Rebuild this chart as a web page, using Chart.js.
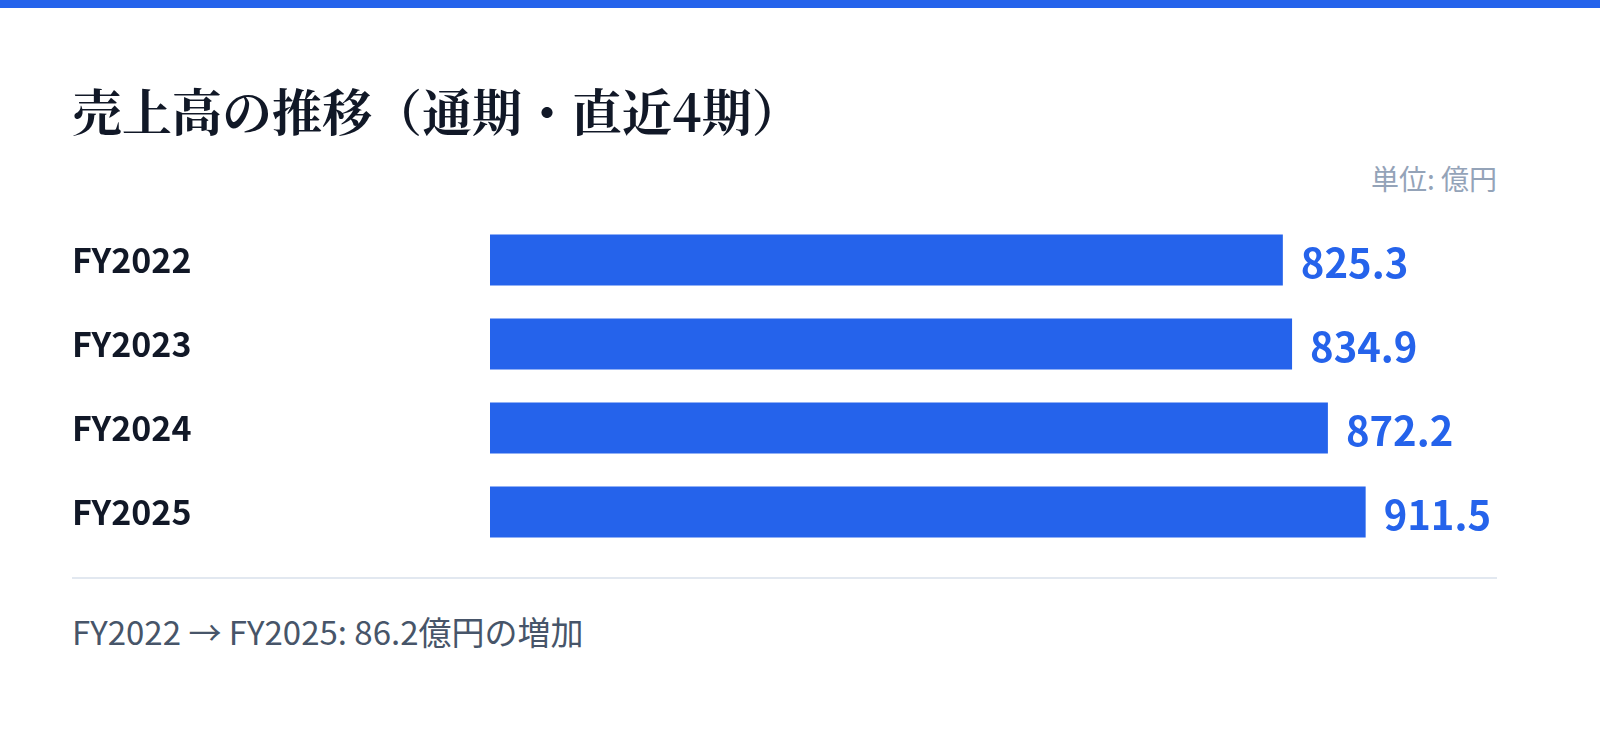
<!DOCTYPE html>
<html lang="ja">
<head>
<meta charset="utf-8">
<script src="https://cdn.jsdelivr.net/npm/chart.js@4.4.1/dist/chart.umd.min.js"></script>
<style>
  html, body { margin: 0; padding: 0; background: #fff; }
  body { width: 1600px; height: 733px; position: relative; overflow: hidden;
         font-family: "Noto Sans CJK JP", "Noto Sans", sans-serif; }
  .topbar { position: absolute; left: 0; top: 0; width: 1600px; height: 8px; background: #2563eb; }
  h1 { position: absolute; left: 72px; top: 76px; margin: 0;
       font-family: "Noto Serif CJK JP", "Liberation Serif", serif; font-weight: 700;
       font-size: 50px; line-height: 66px; color: #111827; white-space: nowrap; }
  .unit { position: absolute; right: 103px; top: 158px; font-size: 28px; line-height: 40px; color: #94a3b8; }
  .chart-box { position: absolute; left: 72px; top: 218px; width: 1425px; height: 336px; }
  .rule { position: absolute; left: 72px; top: 577px; width: 1425px; height: 2px; background: #e2e8f0; }
  .note { position: absolute; left: 72px; top: 608px; font-size: 33px; line-height: 46px; color: #475569; white-space: nowrap; }
</style>
</head>
<body>
<div class="topbar"></div>
<h1>売上高の推移（通期・直近4期）</h1>
<div class="unit">単位: 億円</div>
<div class="chart-box"><canvas id="salesChart"></canvas></div>
<div class="rule"></div>
<div class="note" id="note"></div>

<script>
// Fiscal years and net sales (億円).
const years = ["FY2022", "FY2023", "FY2024", "FY2025"];
const sales = [825.3, 834.9, 872.2, 911.5];

const barColor = "#2563eb";

// Footer: change from first to last year.
const diff = (sales[sales.length - 1] - sales[0]).toFixed(1);
document.getElementById("note").textContent =
  `${years[0]} → ${years[years.length - 1]}: ${diff}億円の増加`;

// Draw the value at the end of each bar.
const valueLabels = {
  id: "valueLabels",
  afterDatasetsDraw(chart) {
    const ctx = chart.ctx;
    const meta = chart.getDatasetMeta(0);
    ctx.save();
    ctx.font = "700 40px 'Noto Sans CJK JP', 'Noto Sans', sans-serif";
    ctx.fillStyle = barColor;
    ctx.textAlign = "left";
    ctx.textBaseline = "middle";
    meta.data.forEach((bar, i) => {
      ctx.fillText(sales[i].toFixed(1), bar.x + 18, bar.y + 3);
    });
    ctx.restore();
  }
};

new Chart(document.getElementById("salesChart"), {
  type: "bar",
  data: {
    labels: years,
    datasets: [{
      data: sales,
      backgroundColor: barColor,
      borderWidth: 0,
      barPercentage: 0.607,
      categoryPercentage: 1.0
    }]
  },
  options: {
    indexAxis: "y",
    responsive: true,
    maintainAspectRatio: false,
    animation: false,
    layout: { padding: 0 },
    plugins: {
      legend: { display: false },
      tooltip: { enabled: false }
    },
    scales: {
      x: {
        display: false,
        min: 0,
        max: Math.max(...sales) * 1.15
      },
      y: {
        grid: { display: false, drawTicks: false },
        border: { display: false },
        // fixed label column, no extra padding above/below the bars
        afterFit(scale) {
          scale.width = 418;
          scale.paddingTop = 0;
          scale.paddingBottom = 0;
        },
        ticks: {
          crossAlign: "far",
          padding: 0,
          color: "#111827",
          font: { family: "'Noto Sans CJK JP', 'Noto Sans', sans-serif", size: 34, weight: "700" }
        }
      }
    }
  },
  plugins: [valueLabels]
});
</script>
</body>
</html>
